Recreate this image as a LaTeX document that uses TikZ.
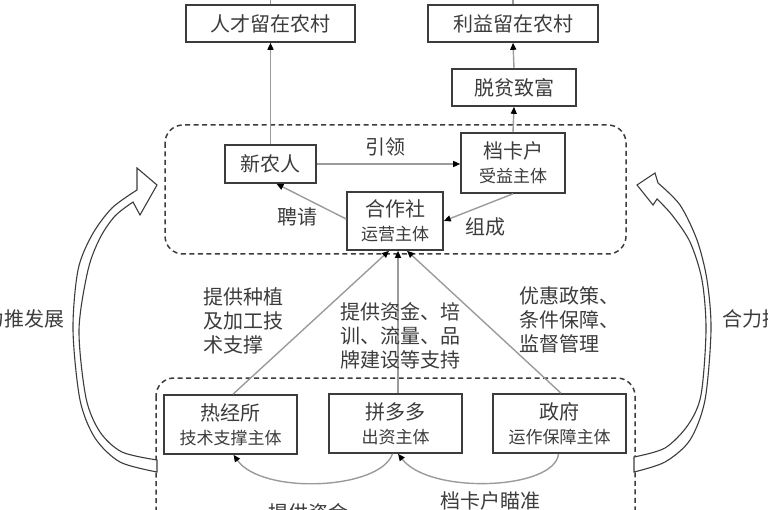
\documentclass[tikz,border=0pt]{standalone}
\usepackage{fontspec}
\setmainfont{Noto Sans CJK SC}
\usetikzlibrary{arrows.meta,calc}
\definecolor{txt}{RGB}{60,60,60}
\definecolor{bord}{RGB}{60,60,60}
\definecolor{lnc}{RGB}{155,155,155}
\newcommand{\mainsz}{\fontsize{20}{24}\selectfont}
\newcommand{\subsz}{\fontsize{17}{20}\selectfont}
\tikzset{
  box/.style={draw=bord, line width=1.6pt, fill=white, inner sep=0pt, text=txt, font=\mainsz, align=center},
  lbl/.style={inner sep=0pt, text=txt, font=\mainsz, align=left},
  conn/.style={draw=lnc, line width=1.4pt, -{Triangle[length=7pt,width=6pt,black]}},
  plainline/.style={draw=lnc, line width=1.4pt},
  dbox/.style={draw=bord, line width=1.5pt, dash pattern=on 5pt off 3.5pt, rounded corners=18pt},
  bigarrow/.style={draw=bord, line width=1.1pt, fill=white, line join=miter},
}
\begin{document}
\begin{tikzpicture}[x=1pt,y=-1pt]
\useasboundingbox (0,0) rectangle (768,510);
\clip (0,0) rectangle (768,510);

% dashed groups
\draw[dbox] (165,125) rectangle (626,254);
\draw[dbox] (156,378) rectangle (635,545);

% big curved arrows
\draw[bigarrow] plot[smooth] coordinates {(157,472) (120,462) (95,438) (80,400) (73,330) (78,270) (92,235) (112,208) (137,190)}
  -- (137,168) -- (157,185) -- (140,215) -- (133,202)
  -- plot[smooth] coordinates {(133,202) (115,216) (100,238) (88,270) (79,330) (86,398) (100,432) (122,452) (157,460)}
  -- cycle;
\draw[bigarrow] plot[smooth] coordinates {(634,472) (665,462) (690,440) (705,400) (711,330) (707,280) (697,240) (680,205) (658,183)}
  -- (655,173) -- (637,185) -- (653,205) -- (657,199)
  -- plot[smooth] coordinates {(657,199) (672,215) (690,242) (702,280) (706,330) (701,395) (688,425) (665,448) (634,457)}
  -- cycle;

% boxes
\node[box, minimum width=169pt, minimum height=37pt] (rc) at (270.5,23.5) {人才留在农村};
\node[box, minimum width=170pt, minimum height=37pt] (ly) at (513,23.5) {利益留在农村};
\node[box, minimum width=124pt, minimum height=37pt] (tp) at (514,87.5) {脱贫致富};
\node[box, minimum width=91pt, minimum height=38pt] (xnr) at (270.5,164) {新农人};
\node[box, minimum width=104pt, minimum height=60pt] (dkh) at (513,163) {档卡户\\{\subsz 受益主体}};
\node[box, minimum width=96pt, minimum height=58pt] (hzs) at (395,221) {合作社\\{\subsz 运营主体}};
\node[box, minimum width=133pt, minimum height=59pt] (rjs) at (230.5,424.5) {热经所\\{\subsz 技术支撑主体}};
\node[box, minimum width=133pt, minimum height=59pt] (pdd) at (395.5,423.5) {拼多多\\{\subsz 出资主体}};
\node[box, minimum width=133pt, minimum height=59pt] (zf) at (559.5,423.5) {政府\\{\subsz 运作保障主体}};

% outgoing lines at top
\coordinate (rcup) at (270.5,-10);
\coordinate (lyup) at (513,-10);
\draw[plainline] (rc.north) -- (rcup);
\draw[plainline] (ly.north) -- (lyup);

% connectors
\draw[conn] (xnr.north) -- (rc.south);
\draw[conn] (dkh.north) -- (tp.south);
\draw[conn] (tp.north) -- (ly.south);
\draw[conn] (xnr.east) -- (xnr.east -| dkh.west);
\draw[conn] ($(hzs.west)+(0,-2)$) -- ($(xnr.south)+(6,0)$);
\draw[conn] (dkh.south) -- (hzs.east);
\draw[conn] ($(rjs.north)+(2.5,0)$) -- ($(hzs.south)+(-6,0)$);
\draw[conn] ($(pdd.north)+(2.5,0)$) -- ($(hzs.south)+(3,0)$);
\draw[conn] ($(zf.north)+(1.5,0)$) -- ($(hzs.south)+(12,0)$);
\draw[conn] ($(pdd.south)+(-3,0)$) .. controls (380,490) and (262,495) .. ($(rjs.south)+(3,0)$);
\draw[conn] ($(zf.south)+(-1,0)$) .. controls (555,490) and (430,495) .. ($(pdd.south)+(2.5,0)$);

% labels
\node[lbl] (lyin) at (385,147) {引领};
\node[lbl] (pq) at (297,217) {聘请};
\node[lbl] (zc) at (485,227) {组成};
\node[lbl, anchor=west] (l1) at (203,320.5) {提供种植\\及加工技\\术支撑};
\node[lbl, align=center] (l2) at (400,336) {提供资金、培\\训、流量、品\\牌建设等支持};
\node[lbl, anchor=west] (l3) at (519,320) {优惠政策、\\条件保障、\\监督管理};
\node[lbl] (lt) at (15,319) {合力推发展};
\node[lbl] (rt) at (772,319) {合力推发展};
\node[lbl] (b1) at (308,513) {提供资金};
\node[lbl] (b2) at (490,501) {档卡户瞄准};
\end{tikzpicture}
\end{document}
